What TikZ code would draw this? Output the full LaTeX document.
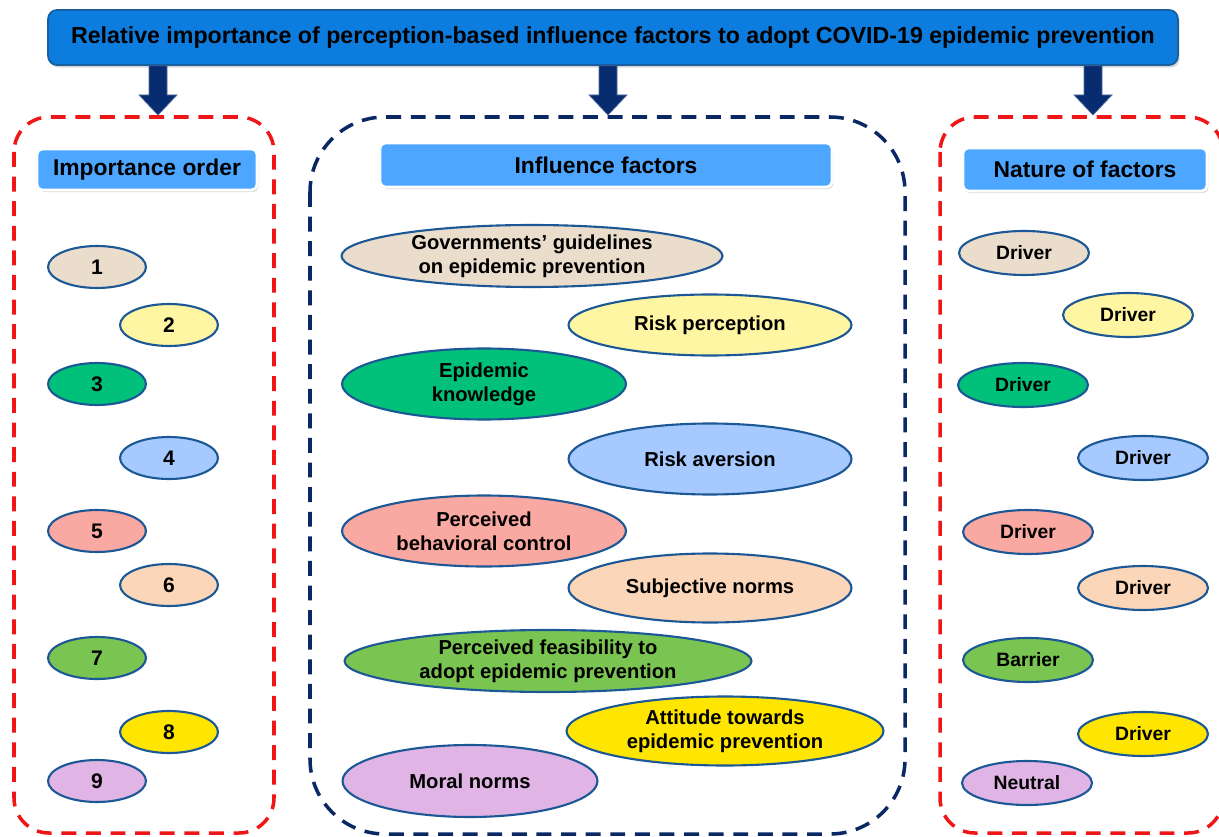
\documentclass[tikz,border=0pt]{standalone}
\usepackage{fontspec}
\setmainfont{Liberation Sans}
\usepackage{tikz}
\usetikzlibrary{calc,shapes.geometric,shadows}
\tikzset{>=stealth}

\definecolor{titleblue}{RGB}{12,124,222}
\definecolor{titleedge}{RGB}{25,95,160}
\definecolor{headblue}{RGB}{77,166,255}
\definecolor{arrownavy}{RGB}{8,44,112}
\definecolor{boxred}{RGB}{238,22,22}
\definecolor{boxnavy}{RGB}{10,40,100}
\definecolor{ringblue}{RGB}{28,88,150}
\definecolor{cTan}{RGB}{234,221,204}
\definecolor{cPaleY}{RGB}{255,246,164}
\definecolor{cEmer}{RGB}{0,192,122}
\definecolor{cSky}{RGB}{166,202,255}
\definecolor{cSalmon}{RGB}{250,168,162}
\definecolor{cPeach}{RGB}{252,214,184}
\definecolor{cGrass}{RGB}{122,196,82}
\definecolor{cGold}{RGB}{255,230,0}
\definecolor{cLilac}{RGB}{224,180,228}

\tikzset{
  oval/.style={ellipse, draw=ringblue, line width=1.2pt, inner sep=0pt,
               align=center, font=\bfseries\fontsize{11.5}{13.6}\selectfont},
  rankoval/.style={oval, minimum width=1.96cm, minimum height=0.84cm,
                   font=\bfseries\fontsize{12}{14}\selectfont},
  natureoval/.style={oval, minimum width=2.6cm, minimum height=0.88cm,
                     font=\bfseries\fontsize{11}{13}\selectfont},
  header/.style={rectangle, rounded corners=3pt, fill=headblue, draw=white,
                 line width=1.5pt, font=\bfseries\fontsize{13}{15}\selectfont,
                 drop shadow={opacity=0.3, shadow xshift=0.8pt, shadow yshift=-1.2pt}},
  groupbox/.style={line width=2pt, dash pattern=on 8.5pt off 5.5pt},
  blockarrow/.style={fill=arrownavy, draw=arrownavy!70!white, line width=0.4pt},
}

\begin{document}
\begin{tikzpicture}[x=0.02cm,y=-0.02cm]
\useasboundingbox (0,0) rectangle (1219,837);

% title bar
\node[rectangle, rounded corners=5pt, fill=titleblue, draw=titleedge, line width=1pt,
      minimum width=22.6cm, minimum height=1.1cm,
      drop shadow={opacity=0.3, shadow xshift=1pt, shadow yshift=-1.5pt},
      font=\bfseries\fontsize{13.2}{15}\selectfont]
  (title) at (613,37.5)
  {Relative importance of perception-based influence factors to adopt COVID-19 epidemic prevention};

% the three groups
\draw[groupbox, draw=boxred, rounded corners=0.7cm] (14,117) rectangle (274,833);
\draw[groupbox, draw=boxnavy, rounded corners=1.5cm] (310,117) rectangle (905,834);
\draw[groupbox, draw=boxred, rounded corners=0.7cm] (940,117) rectangle (1223,833);

% arrows from the title
\coordinate (tipOrder) at (158,115);
\coordinate (tipFactor) at (608,115);
\coordinate (tipNature) at (1093,115);
\foreach \t in {tipOrder,tipFactor,tipNature}
  \draw[blockarrow] (\t) -- ++(19,-20) -- ++(-10,0)
      -- ($(title.south -| \t)+(9,0)$) -- ++(-18,0)
      -- ($(\t)+(-9,-20)$) -- ++(-10,0) -- cycle;

% headers
\node[header, minimum width=4.4cm, minimum height=0.82cm] (hdOrder) at (147,169.5) {Importance order};
\node[header, minimum width=9.04cm, minimum height=0.88cm] (hdFactor) at (606,165) {Influence factors};
\node[header, minimum width=4.88cm, minimum height=0.86cm] (hdNature) at (1085,169.5) {Nature of factors};

% importance order
\foreach \i/\x/\y/\c in {1/97/267/cTan, 2/169/325/cPaleY, 3/97/384/cEmer,
                         4/169/458/cSky, 5/97/531/cSalmon, 6/169/585/cPeach,
                         7/97/658/cGrass, 8/169/732/cGold, 9/97/781/cLilac}
  \node[rankoval, fill=\c] (r\i) at (\x,\y) {\i};

% influence factors
\node[oval, fill=cTan, minimum width=7.62cm, minimum height=1.24cm] (f1) at (532,256)
  {Governments’ guidelines\\on epidemic prevention};
\node[oval, fill=cPaleY, minimum width=5.66cm, minimum height=1.22cm] (f2) at (710,325)
  {Risk perception};
\node[oval, fill=cEmer, minimum width=5.68cm, minimum height=1.42cm] (f3) at (484,384)
  {Epidemic\\knowledge};
\node[oval, fill=cSky, minimum width=5.66cm, minimum height=1.42cm] (f4) at (710,459)
  {Risk aversion};
\node[oval, fill=cSalmon, minimum width=5.68cm, minimum height=1.42cm] (f5) at (484,531)
  {Perceived\\behavioral control};
\node[oval, fill=cPeach, minimum width=5.66cm, minimum height=1.38cm] (f6) at (710,588)
  {Subjective norms};
\node[oval, fill=cGrass, minimum width=8.14cm, minimum height=1.24cm] (f7) at (548,661)
  {Perceived feasibility to\\adopt epidemic prevention};
\node[oval, fill=cGold, minimum width=6.34cm, minimum height=1.38cm] (f8) at (725,731)
  {Attitude towards\\epidemic prevention};
\node[oval, fill=cLilac, minimum width=5.1cm, minimum height=1.44cm] (f9) at (470,781)
  {Moral norms};

% nature of factors
\foreach \i/\x/\y/\c/\t in {1/1024/253/cTan/Driver, 2/1128/315/cPaleY/Driver,
                            3/1023/385/cEmer/Driver, 4/1143/458/cSky/Driver,
                            5/1028/532/cSalmon/Driver, 6/1143/588/cPeach/Driver,
                            7/1028/660/cGrass/Barrier, 8/1143/734/cGold/Driver,
                            9/1027/783/cLilac/Neutral}
  \node[natureoval, fill=\c] (n\i) at (\x,\y) {\t};
\end{tikzpicture}
\end{document}
